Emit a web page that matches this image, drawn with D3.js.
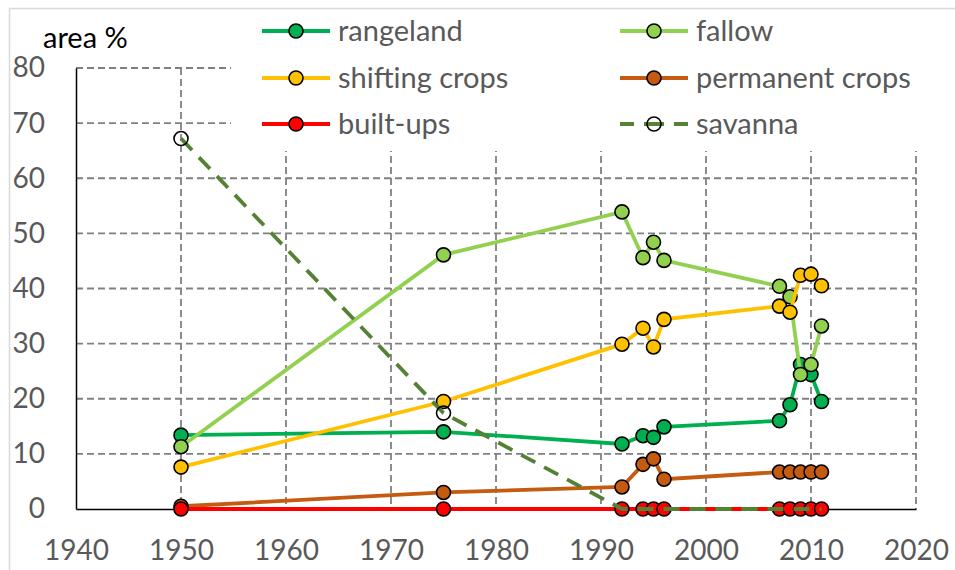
<!DOCTYPE html>
<html>
<head>
<meta charset="utf-8">
<script src="https://cdn.jsdelivr.net/npm/d3@7"></script>
<style>
  body { margin: 0; background: #fff; }
  svg { display: block; font-family: Lato, "Open Sans", sans-serif; }
</style>
</head>
<body>
<div id="chart"></div>
<script>
// Survey years (same for every series)
const years = [1950, 1975, 1992, 1994, 1995, 1996, 2007, 2008, 2009, 2010, 2011];

// Area share (%) per land cover class
const rangeland = [13.4, 14.0, 11.8, 13.3, 13.0, 14.9, 16.0, 18.9, 26.2, 24.4, 19.5];
const fallow = [11.3, 46.1, 53.9, 45.6, 48.4, 45.1, 40.4, 38.5, 24.4, 26.2, 33.2];
const shiftingCrops = [7.6, 19.5, 29.9, 32.8, 29.4, 34.4, 36.8, 35.7, 42.4, 42.6, 40.5];
const permanentCrops = [0.5, 3.0, 4.0, 8.1, 9.1, 5.4, 6.7, 6.7, 6.7, 6.7, 6.7];
const builtUps = [0, 0, 0, 0, 0, 0, 0, 0, 0, 0, 0];
const savanna = [67.2, 17.4, 0, 0, 0, 0, 0, 0, 0, 0, 0];

// Axis ticks
const xTicks = [1940, 1950, 1960, 1970, 1980, 1990, 2000, 2010, 2020];
const yTicks = [0, 10, 20, 30, 40, 50, 60, 70, 80];

// Series list in drawing order (same as the legend order)
const series = [
    { name: "rangeland", values: rangeland, color: "#00B050" },
    { name: "fallow", values: fallow, color: "#92D050" },
    { name: "shifting crops", values: shiftingCrops, color: "#FFC000" },
    { name: "permanent crops", values: permanentCrops, color: "#C55A11" },
    { name: "built-ups", values: builtUps, color: "#FF0000" },
    { name: "savanna", values: savanna, color: "#548235", dashed: true }
];

const width = 955;
const height = 570;
const plot = { left: 76, right: 916, top: 68, bottom: 509 };
const textGray = "#595959";

const svg = d3.select("#chart").append("svg")
    .attr("width", width)
    .attr("height", height);

// Chart area border (only top/left edge falls inside the picture)
svg.append("rect")
    .attr("x", 9.5)
    .attr("y", 8.5)
    .attr("width", 1000)
    .attr("height", 1000)
    .attr("fill", "#fff")
    .attr("stroke", "#d9d9d9")
    .attr("stroke-width", 1.5);

// Scales
const xScale = d3.scaleLinear()
    .domain([1940, 2020])
    .range([plot.left, plot.right]);

const yScale = d3.scaleLinear()
    .domain([0, 80])
    .range([plot.bottom, plot.top]);

// Dashed gridlines
const grid = svg.append("g").attr("class", "grid");

grid.selectAll(".hgrid")
    .data(yTicks.filter(d => d > 0))
    .enter().append("line")
    .attr("x1", plot.left)
    .attr("x2", plot.right)
    .attr("y1", d => yScale(d))
    .attr("y2", d => yScale(d));

grid.selectAll(".vgrid")
    .data(xTicks.filter(d => d > 1940))
    .enter().append("line")
    .attr("x1", d => xScale(d))
    .attr("x2", d => xScale(d))
    .attr("y1", plot.top)
    .attr("y2", plot.bottom);

grid.selectAll("line")
    .attr("stroke", "#808080")
    .attr("stroke-width", 1.8)
    .attr("stroke-dasharray", "7,4");

// Legend box (white, sits over the gridlines)
svg.append("rect")
    .attr("x", 231)
    .attr("y", 11)
    .attr("width", 715)
    .attr("height", 140)
    .attr("fill", "#fff");

// Axes
const xAxis = svg.append("g")
    .attr("transform", "translate(0," + plot.bottom + ")")
    .call(d3.axisBottom(xScale).tickValues(xTicks).tickFormat(d3.format("d"))
        .tickSize(0).tickPadding(31));

const yAxis = svg.append("g")
    .attr("transform", "translate(" + plot.left + ",0)")
    .call(d3.axisLeft(yScale).tickValues(yTicks).tickSize(0).tickPadding(31));

[xAxis, yAxis].forEach(ax => {
    ax.select(".domain").attr("stroke", "#000").attr("stroke-width", 1.5);
    ax.selectAll("text")
        .attr("fill", textGray)
        .style("font-size", "28px")
        .style("font-family", "Lato, sans-serif");
});

// Axis title
svg.append("text")
    .attr("x", 43)
    .attr("y", 48)
    .style("font-size", "29px")
    .attr("fill", "#000")
    .text("area %");

// Lines
const line = d3.line()
    .x((d, i) => xScale(years[i]))
    .y(d => yScale(d));

series.forEach(s => {
    const g = svg.append("g");

    g.append("path")
        .datum(s.values)
        .attr("d", line)
        .attr("fill", "none")
        .attr("stroke", s.color)
        .attr("stroke-width", 3.8)
        .attr("stroke-dasharray", s.dashed ? "16,10" : null);

    // Markers (savanna only has markers where it was mapped)
    const pts = s.values.map((v, i) => ({ year: years[i], value: v }))
        .filter(p => !s.dashed || p.value > 0);

    g.selectAll("circle")
        .data(pts)
        .enter().append("circle")
        .attr("cx", d => xScale(d.year))
        .attr("cy", d => yScale(d.value))
        .attr("r", 7)
        .attr("fill", s.dashed ? "none" : s.color)
        .attr("stroke", "#000")
        .attr("stroke-width", 1.6);
});

// Legend, two columns x three rows
const legendCols = [296, 654];
const legendRows = [31, 78, 124];

series.forEach((s, i) => {
    const cx = legendCols[i % 2];
    const cy = legendRows[Math.floor(i / 2)];
    const item = svg.append("g");

    item.append("line")
        .attr("x1", cx - 34)
        .attr("x2", cx + 34)
        .attr("y1", cy)
        .attr("y2", cy)
        .attr("stroke", s.color)
        .attr("stroke-width", 3.8)
        .attr("stroke-dasharray", s.dashed ? "14,10,20,10,14" : null);

    item.append("circle")
        .attr("cx", cx)
        .attr("cy", cy)
        .attr("r", 7)
        .attr("fill", s.dashed ? "none" : s.color)
        .attr("stroke", "#000")
        .attr("stroke-width", 1.6);

    item.append("text")
        .attr("x", cx + 42)
        .attr("y", cy)
        .attr("dy", "0.35em")
        .attr("fill", textGray)
        .style("font-size", "29px")
        .text(s.name);
});
</script>
</body>
</html>
